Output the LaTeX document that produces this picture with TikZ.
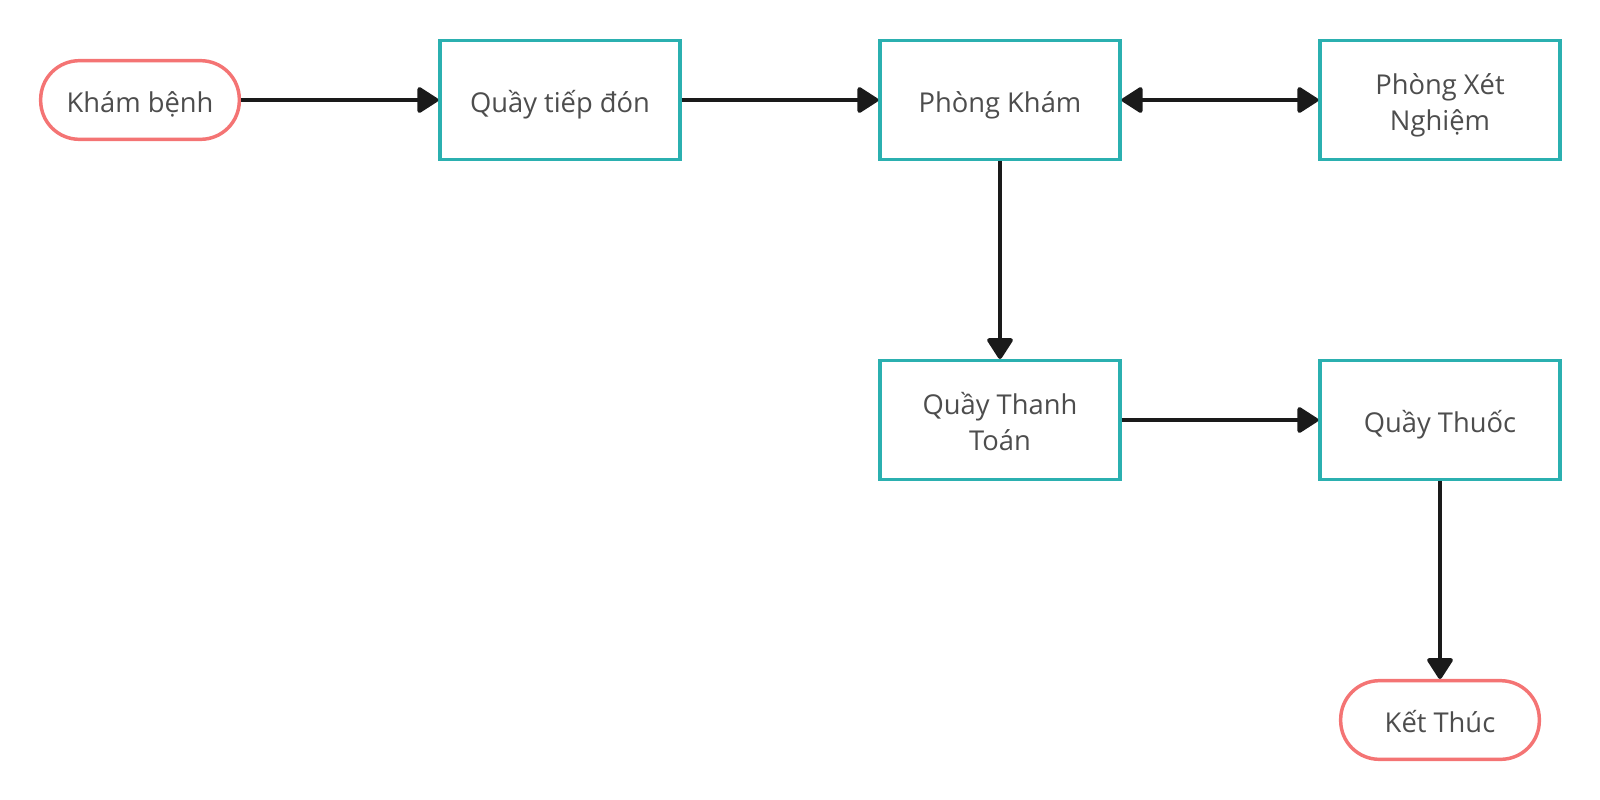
\documentclass[tikz,border=0pt]{standalone}
\usepackage{fontspec}
\setmainfont{Open Sans}
\usetikzlibrary{arrows.meta}

\definecolor{boxTeal}{RGB}{43,176,176}
\definecolor{pillRed}{RGB}{244,116,116}
\definecolor{textGray}{RGB}{77,77,77}
\definecolor{lineDark}{RGB}{26,26,26}

\tikzset{
  every picture/.style={line width=0.75pt},
  flowtext/.style={align=center, text=textGray,
    font=\fontsize{20.5}{27.5}\selectfont,
    execute at begin node={\rule{0pt}{25pt}},
    execute at end node={\rule[-7pt]{0pt}{7pt}}},
  twoline/.style={execute at begin node={\rule{0pt}{53pt}}},
  stepbox/.style={flowtext, draw=boxTeal, line width=2.5pt, fill=white, rectangle,
    minimum width=180pt, minimum height=89pt, inner sep=1pt},
  terminal/.style={flowtext, draw=pillRed, line width=2.6pt, fill=white, rectangle,
    rounded corners=29pt, minimum width=149pt, minimum height=59pt, inner sep=1pt},
  flow/.style={draw=lineDark, line width=3pt,
    -{Triangle[length=17pt,width=21pt,round]}},
  flowboth/.style={draw=lineDark, line width=3pt,
    {Triangle[length=17pt,width=21pt,round]}-{Triangle[length=17pt,width=21pt,round]}}
}

\begin{document}
\begin{tikzpicture}[x=0.75pt,y=0.75pt,yscale=-1,xscale=1]
%set diagram left start at 0, and has height of 800
\useasboundingbox (0,0) rectangle (1600,800);

%Terminal: start
\node [terminal] (kham) at (140,100) {Khám bệnh};
%Process boxes
\node [stepbox] (tiepdon) at (560,100) {Quầy tiếp đón};
\node [stepbox] (phongkham) at (1000,100) {Phòng Khám};
\node [stepbox, twoline] (xetnghiem) at (1440,100) {Phòng Xét\\Nghiệm};
\node [stepbox, twoline] (thanhtoan) at (1000,420) {Quầy Thanh\\Toán};
\node [stepbox] (thuoc) at (1440,420) {Quầy Thuốc};
%Terminal: end
\node [terminal] (ketthuc) at (1440,720) {Kết Thúc};

%Connectors
\draw [flow] (kham.east) -- (tiepdon.west);
\draw [flow] (tiepdon.east) -- (phongkham.west);
\draw [flowboth] (phongkham.east) -- (xetnghiem.west);
\draw [flow] (phongkham.south) -- (thanhtoan.north);
\draw [flow] (thanhtoan.east) -- (thuoc.west);
\draw [flow] (thuoc.south) -- (ketthuc.north);

\end{tikzpicture}
\end{document}
